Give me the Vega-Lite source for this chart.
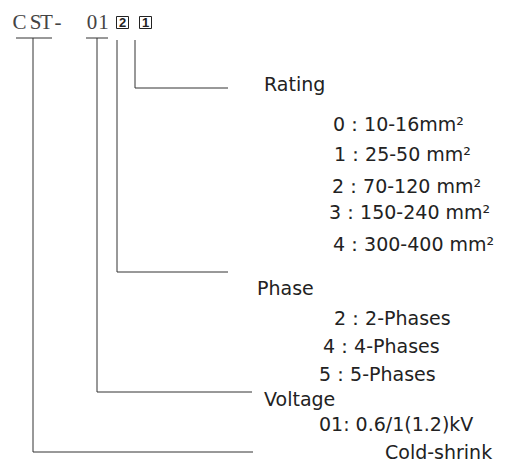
{
  "$schema": "https://vega.github.io/schema/vega-lite/v6.json",
  "width": 506,
  "height": 467,
  "autosize": {"type": "fit", "contains": "padding"},
  "padding": 0,
  "background": "white",
  "config": {"view": {"stroke": null}},
  "datasets": {
    "lines": [
      {"x": 16, "y": 38, "x2": 52, "y2": 38},
      {"x": 86, "y": 38, "x2": 108, "y2": 38},
      {"x": 33, "y": 38, "x2": 33, "y2": 452},
      {"x": 33, "y": 452, "x2": 253, "y2": 452},
      {"x": 97, "y": 38, "x2": 97, "y2": 392},
      {"x": 97, "y": 392, "x2": 252, "y2": 392},
      {"x": 117, "y": 40, "x2": 117, "y2": 272},
      {"x": 117, "y": 272, "x2": 228, "y2": 272},
      {"x": 135, "y": 40, "x2": 135, "y2": 88},
      {"x": 135, "y": 88, "x2": 228, "y2": 88}
    ],
    "header": [
      {"x": 19.5, "y": 23, "t": "C"},
      {"x": 35.5, "y": 23, "t": "S"},
      {"x": 46.5, "y": 23, "t": "T"},
      {"x": 58, "y": 23, "t": "-"},
      {"x": 92, "y": 23, "t": "0"},
      {"x": 103.5, "y": 23, "t": "1"}
    ],
    "boxes": [
      {"x": 116.5, "x2": 128.5, "y": 16.5, "y2": 28.5, "t": "2"},
      {"x": 139.5, "x2": 151.5, "y": 16.5, "y2": 28.5, "t": "1"}
    ],
    "labels": [
      {"x": 264, "y": 85, "t": "Rating"},
      {"x": 333, "y": 125, "t": "0：10-16mm²"},
      {"x": 334, "y": 155, "t": "1：25-50 mm²"},
      {"x": 332, "y": 187, "t": "2：70-120 mm²"},
      {"x": 329, "y": 213, "t": "3：150-240 mm²"},
      {"x": 333, "y": 245, "t": "4：300-400 mm²"},
      {"x": 257, "y": 289, "t": "Phase"},
      {"x": 334, "y": 319, "t": "2：2-Phases"},
      {"x": 323, "y": 347, "t": "4：4-Phases"},
      {"x": 319, "y": 375, "t": "5：5-Phases"},
      {"x": 264, "y": 400, "t": "Voltage"},
      {"x": 319, "y": 425, "t": "01: 0.6/1(1.2)kV"},
      {"x": 385, "y": 453, "t": "Cold-shrink"}
    ]
  },
  "layer": [
    {
      "data": {"name": "lines"},
      "mark": {"type": "rule", "color": "#333333", "strokeWidth": 1},
      "encoding": {
        "x": {"field": "x", "type": "quantitative", "scale": {"domain": [0, 506], "nice": false, "zero": false}, "axis": null},
        "y": {"field": "y", "type": "quantitative", "scale": {"domain": [0, 467], "nice": false, "zero": false, "reverse": true}, "axis": null},
        "x2": {"field": "x2"},
        "y2": {"field": "y2"}
      }
    },
    {
      "data": {"name": "boxes"},
      "mark": {"type": "rect", "fill": "white", "stroke": "#222222", "strokeWidth": 1},
      "encoding": {
        "x": {"field": "x", "type": "quantitative", "axis": null},
        "y": {"field": "y", "type": "quantitative", "axis": null},
        "x2": {"field": "x2"},
        "y2": {"field": "y2"}
      }
    },
    {
      "data": {"name": "boxes"},
      "mark": {"type": "text", "font": "Liberation Sans", "fontSize": 13, "fontWeight": "bold", "color": "#222222", "align": "center", "baseline": "middle", "dx": 6, "dy": 6.5},
      "encoding": {
        "x": {"field": "x", "type": "quantitative", "axis": null},
        "y": {"field": "y", "type": "quantitative", "axis": null},
        "text": {"field": "t"}
      }
    },
    {
      "data": {"name": "header"},
      "mark": {"type": "text", "font": "Liberation Serif", "fontSize": 21, "color": "#444444", "align": "center", "baseline": "middle"},
      "encoding": {
        "x": {"field": "x", "type": "quantitative", "axis": null},
        "y": {"field": "y", "type": "quantitative", "axis": null},
        "text": {"field": "t"}
      }
    },
    {
      "data": {"name": "labels"},
      "mark": {"type": "text", "font": "DejaVu Sans", "fontSize": 19, "color": "#222222", "align": "left", "baseline": "middle"},
      "encoding": {
        "x": {"field": "x", "type": "quantitative", "axis": null},
        "y": {"field": "y", "type": "quantitative", "axis": null},
        "text": {"field": "t"}
      }
    }
  ]
}
